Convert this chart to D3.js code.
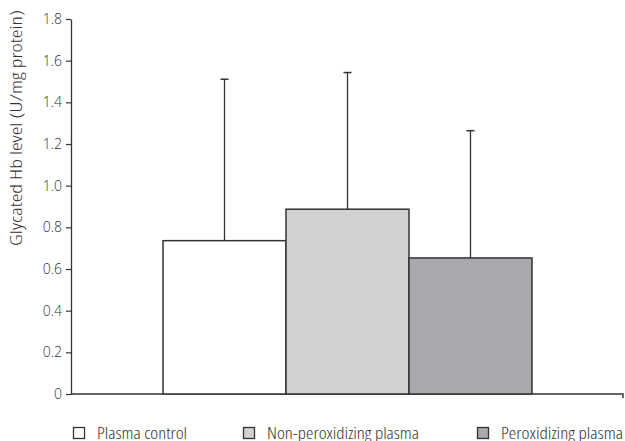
<!DOCTYPE html>
<html>
<head>
<meta charset="utf-8">
<script src="https://cdn.jsdelivr.net/npm/d3@7"></script>
<style>
  html, body { margin: 0; padding: 0; background: #fff; }
  svg text { font-family: "Open Sans", "Roboto", sans-serif; font-weight: 300; fill: #333; }
</style>
</head>
<body>
<svg id="chart" width="625" height="441"></svg>
<script>
// Glycated haemoglobin by plasma treatment (mean + SD)
const groups = ["Plasma control", "Non-peroxidizing plasma", "Peroxidizing plasma"];
const means = [0.736, 0.887, 0.653];
const errors = [0.775, 0.656, 0.611];
const fills = ["#ffffff", "#d1d2d4", "#a8a9ac"];
const yTicks = [0, 0.2, 0.4, 0.6, 0.8, 1.0, 1.2, 1.4, 1.6, 1.8];
const yTickLabels = ["0", "0.2", "0.4", "0.6", "0.8", "1.0", "1.2", "1.4", "1.6", "1.8"];
const yTitle = "Glycated Hb level (U/mg protein)";

const svg = d3.select("#chart");
const ink = "#333";

const plot = { left: 71, right: 623, top: 19, bottom: 394 };

const y = d3.scaleLinear().domain([0, 1.8]).range([plot.bottom, plot.top]);
const x = d3.scaleBand().domain(groups).range([163, 532]).paddingInner(0).paddingOuter(0);

// y axis
const yAxis = d3.axisLeft(y)
  .tickValues(yTicks)
  .tickFormat((d, i) => yTickLabels[i])
  .tickSizeInner(5).tickSizeOuter(0).tickPadding(4);
const gy = svg.append("g").attr("transform", `translate(${plot.left},0)`).call(yAxis);
gy.attr("font-family", null).attr("font-size", null);
gy.select(".domain").attr("stroke", ink).attr("stroke-width", 1.3);
gy.selectAll(".tick line").attr("stroke", ink).attr("stroke-width", 1.2);
gy.selectAll(".tick text").style("font-size", "14px").style("font-stretch", "92%").style("fill", ink);

// x axis baseline with end tick
const xLine = d3.scaleLinear().domain([0, 1]).range([plot.left, plot.right]);
const gx = svg.append("g").attr("transform", `translate(0,${plot.bottom})`)
  .call(d3.axisBottom(xLine).tickValues([]).tickSizeOuter(4));
gx.select(".domain").attr("stroke", ink).attr("stroke-width", 1.5)
  .attr("d", `M${plot.left},0H${plot.right}V4`);

// error bars (upper only)
const err = svg.append("g");
groups.forEach((g, i) => {
  const cx = x(g) + x.bandwidth() / 2;
  err.append("line")
    .attr("x1", cx).attr("x2", cx)
    .attr("y1", y(means[i])).attr("y2", y(means[i] + errors[i]))
    .attr("stroke", ink).attr("stroke-width", 1.3);
  err.append("line")
    .attr("x1", cx - 4).attr("x2", cx + 4)
    .attr("y1", y(means[i] + errors[i])).attr("y2", y(means[i] + errors[i]))
    .attr("stroke", ink).attr("stroke-width", 1.5);
});

// bars
svg.append("g").selectAll("rect").data(groups).join("rect")
  .attr("x", d => x(d))
  .attr("y", (d, i) => y(means[i]))
  .attr("width", x.bandwidth())
  .attr("height", (d, i) => y(0) - y(means[i]))
  .attr("fill", (d, i) => fills[i])
  .attr("stroke", ink).attr("stroke-width", 1.5);

// y axis title
svg.append("text")
  .attr("transform", "translate(22,128) rotate(-90)")
  .attr("text-anchor", "middle")
  .style("font-size", "15.5px")
  .style("font-stretch", "87.5%")
  .attr("textLength", 236)
  .attr("lengthAdjust", "spacingAndGlyphs")
  .text(yTitle);

// legend
const legendX = [73, 243, 477];
const legendWidths = [90, 152, 122];
const leg = svg.append("g");
groups.forEach((g, i) => {
  leg.append("rect")
    .attr("x", legendX[i] + 0.5).attr("y", 427.5)
    .attr("width", 11).attr("height", 11)
    .attr("fill", fills[i]).attr("stroke", ink).attr("stroke-width", 1.3);
  leg.append("text")
    .attr("x", legendX[i] + 24).attr("y", 438.5)
    .style("font-size", "16px")
    .style("font-stretch", "87.5%")
    .attr("textLength", legendWidths[i])
    .attr("lengthAdjust", "spacingAndGlyphs")
    .text(g);
});
</script>
</body>
</html>
